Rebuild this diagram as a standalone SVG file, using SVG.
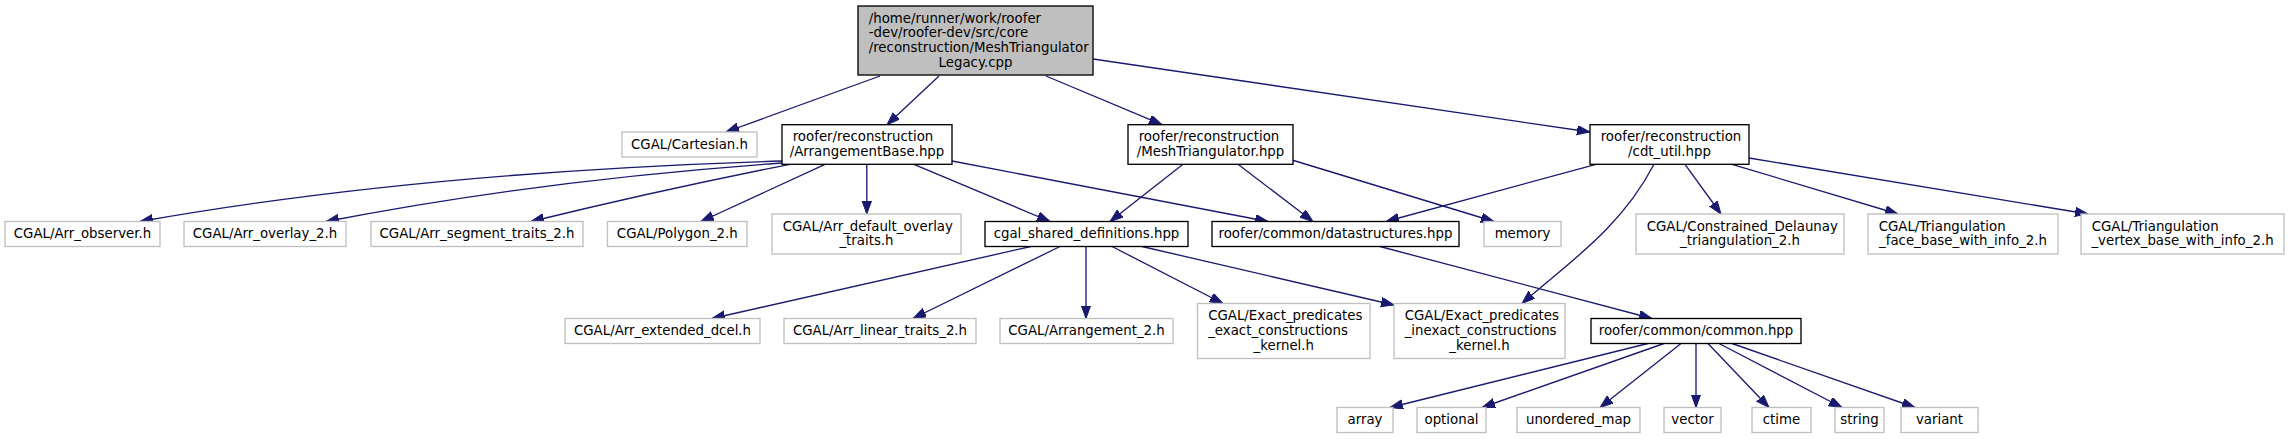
<svg xmlns="http://www.w3.org/2000/svg" width="2289" height="439" viewBox="0 0 2289 439">
<style>
text{font-family:"DejaVu Sans","Liberation Sans",sans-serif;font-size:13.33px;fill:#000}
.m{text-anchor:middle}
.s{text-anchor:start}
.doc{fill:#fff;stroke:#000;stroke-width:1.33}
.ext{fill:#fff;stroke:#bfbfbf;stroke-width:1.33}
.main{fill:#bfbfbf;stroke:#000;stroke-width:1.33}
.e{fill:none;stroke:#191970;stroke-width:1.33;marker-end:url(#ah)}
</style>
<defs>
<marker id="ah" markerUnits="userSpaceOnUse" markerWidth="15" markerHeight="11" refX="13" refY="4.7" orient="auto">
<path d="M0,0 L13,4.7 L0,9.4 z" fill="#191970" stroke="#191970" stroke-width="1"/>
</marker>
</defs>
<rect width="2289" height="439" fill="#fff"/>
<g id="edges">
<path class="e" d="M880,76 L726,132"/>
<path class="e" d="M939,76 L887,124.7"/>
<path class="e" d="M1046,76 L1162,124.7"/>
<path class="e" d="M1093,59 L1590,132"/>
<path class="e" d="M782,161 Q420,172 140,221.5"/>
<path class="e" d="M782,163 Q540,180 326,221.5"/>
<path class="e" d="M790,164.3 Q660,190 531,221.5"/>
<path class="e" d="M825,164.3 L701,221.5"/>
<path class="e" d="M866.8,164.3 L866.8,214"/>
<path class="e" d="M914,164.3 L1050,221.5"/>
<path class="e" d="M952,161 L1268,221.5"/>
<path class="e" d="M1183,164.3 L1110,221.5"/>
<path class="e" d="M1238,164.3 L1313,221.5"/>
<path class="e" d="M1292,160 L1494,221.5"/>
<path class="e" d="M1596,164.3 L1386,221.5"/>
<path class="e" d="M1654,164.3 C1620,230 1565,265 1522,303.5"/>
<path class="e" d="M1685,164.3 L1721,214"/>
<path class="e" d="M1732,164.3 L1898,214"/>
<path class="e" d="M1749,158 L2088,214"/>
<path class="e" d="M1031,246.5 L712,318.5"/>
<path class="e" d="M1060,246.5 L913,318.5"/>
<path class="e" d="M1086,246.5 L1086,318.5"/>
<path class="e" d="M1112,246.5 L1223,303.5"/>
<path class="e" d="M1142,246.5 L1394,305"/>
<path class="e" d="M1380,246.5 L1652,318.5"/>
<path class="e" d="M1648,343.5 L1390,407.5"/>
<path class="e" d="M1664,343.5 L1482,407.5"/>
<path class="e" d="M1681,343.5 L1600,407.5"/>
<path class="e" d="M1696,343.5 L1696,407.5"/>
<path class="e" d="M1708,343.5 L1769,407.5"/>
<path class="e" d="M1719,343.5 L1842,407.5"/>
<path class="e" d="M1732,343.5 L1915,407.5"/>
</g>
<g id="n0"><rect class="main" x="858" y="6" width="235" height="69"/>
<text class="s" x="868.7" y="22.5">/home/runner/work/roofer</text>
<text class="s" x="868.7" y="37.2">-dev/roofer-dev/src/core</text>
<text class="s" x="868.7" y="51.8">/reconstruction/MeshTriangulator</text>
<text class="m" x="975.5" y="66.5">Legacy.cpp</text></g>
<g id="n1"><rect class="ext" x="622" y="132" width="135" height="25"/><text class="m" x="689.5" y="148.5">CGAL/Cartesian.h</text></g>
<g id="n2"><rect class="doc" x="782" y="124.7" width="170" height="39.6"/>
<text class="s" x="792.7" y="141.2">roofer/reconstruction</text>
<text class="m" x="867" y="155.8">/ArrangementBase.hpp</text></g>
<g id="n3"><rect class="doc" x="1128" y="124.7" width="165" height="39.6"/>
<text class="s" x="1138.7" y="141.2">roofer/reconstruction</text>
<text class="m" x="1210.5" y="155.8">/MeshTriangulator.hpp</text></g>
<g id="n4"><rect class="doc" x="1590" y="124.7" width="159" height="39.6"/>
<text class="s" x="1600.7" y="141.2">roofer/reconstruction</text>
<text class="m" x="1669.5" y="155.8">/cdt_util.hpp</text></g>
<g id="n5"><rect class="ext" x="5" y="221.5" width="155" height="25"/><text class="m" x="82.5" y="238">CGAL/Arr_observer.h</text></g>
<g id="n6"><rect class="ext" x="184" y="221.5" width="162" height="25"/><text class="m" x="265" y="238">CGAL/Arr_overlay_2.h</text></g>
<g id="n7"><rect class="ext" x="371" y="221.5" width="212" height="25"/><text class="m" x="477" y="238">CGAL/Arr_segment_traits_2.h</text></g>
<g id="n8"><rect class="ext" x="607.5" y="221.5" width="139.5" height="25"/><text class="m" x="677.3" y="238">CGAL/Polygon_2.h</text></g>
<g id="n9"><rect class="ext" x="772" y="214" width="189" height="40"/>
<text class="s" x="782.7" y="230.7">CGAL/Arr_default_overlay</text>
<text class="m" x="866.5" y="245.3">_traits.h</text></g>
<g id="n10"><rect class="doc" x="985" y="221.5" width="203" height="25"/><text class="m" x="1086.5" y="238">cgal_shared_definitions.hpp</text></g>
<g id="n11"><rect class="doc" x="1212" y="221.5" width="247" height="25"/><text class="m" x="1335.5" y="238">roofer/common/datastructures.hpp</text></g>
<g id="n12"><rect class="ext" x="1484" y="221.5" width="77" height="25"/><text class="m" x="1522.5" y="238">memory</text></g>
<g id="n13"><rect class="ext" x="1636" y="214" width="208" height="40"/>
<text class="s" x="1646.7" y="230.7">CGAL/Constrained_Delaunay</text>
<text class="m" x="1740" y="245.3">_triangulation_2.h</text></g>
<g id="n14"><rect class="ext" x="1868" y="214" width="190" height="40"/>
<text class="s" x="1878.7" y="230.7">CGAL/Triangulation</text>
<text class="m" x="1963" y="245.3">_face_base_with_info_2.h</text></g>
<g id="n15"><rect class="ext" x="2081" y="214" width="203" height="40"/>
<text class="s" x="2091.7" y="230.7">CGAL/Triangulation</text>
<text class="m" x="2182.5" y="245.3">_vertex_base_with_info_2.h</text></g>
<g id="n16"><rect class="ext" x="565" y="318.5" width="195" height="25"/><text class="m" x="662.5" y="335">CGAL/Arr_extended_dcel.h</text></g>
<g id="n17"><rect class="ext" x="784" y="318.5" width="192" height="25"/><text class="m" x="880" y="335">CGAL/Arr_linear_traits_2.h</text></g>
<g id="n18"><rect class="ext" x="1000" y="318.5" width="173" height="25"/><text class="m" x="1086.5" y="335">CGAL/Arrangement_2.h</text></g>
<g id="n19"><rect class="ext" x="1197.5" y="303.5" width="172.5" height="55"/>
<text class="s" x="1208.2" y="320.3">CGAL/Exact_predicates</text>
<text class="s" x="1208.2" y="335">_exact_constructions</text>
<text class="m" x="1283.8" y="349.7">_kernel.h</text></g>
<g id="n20"><rect class="ext" x="1394" y="303.5" width="171" height="55"/>
<text class="s" x="1404.7" y="320.3">CGAL/Exact_predicates</text>
<text class="s" x="1404.7" y="335">_inexact_constructions</text>
<text class="m" x="1479.5" y="349.7">_kernel.h</text></g>
<g id="n21"><rect class="doc" x="1591" y="318.5" width="210" height="25"/><text class="m" x="1696" y="335">roofer/common/common.hpp</text></g>
<g id="n22"><rect class="ext" x="1337" y="407.5" width="56" height="25"/><text class="m" x="1365" y="424">array</text></g>
<g id="n23"><rect class="ext" x="1417" y="407.5" width="69" height="25"/><text class="m" x="1451.5" y="424">optional</text></g>
<g id="n24"><rect class="ext" x="1517" y="407.5" width="123" height="25"/><text class="m" x="1578.5" y="424">unordered_map</text></g>
<g id="n25"><rect class="ext" x="1664" y="407.5" width="57" height="25"/><text class="m" x="1692.5" y="424">vector</text></g>
<g id="n26"><rect class="ext" x="1752" y="407.5" width="59" height="25"/><text class="m" x="1781.5" y="424">ctime</text></g>
<g id="n27"><rect class="ext" x="1835" y="407.5" width="49" height="25"/><text class="m" x="1859.5" y="424">string</text></g>
<g id="n28"><rect class="ext" x="1901" y="407.5" width="77" height="25"/><text class="m" x="1939.5" y="424">variant</text></g>
</svg>
